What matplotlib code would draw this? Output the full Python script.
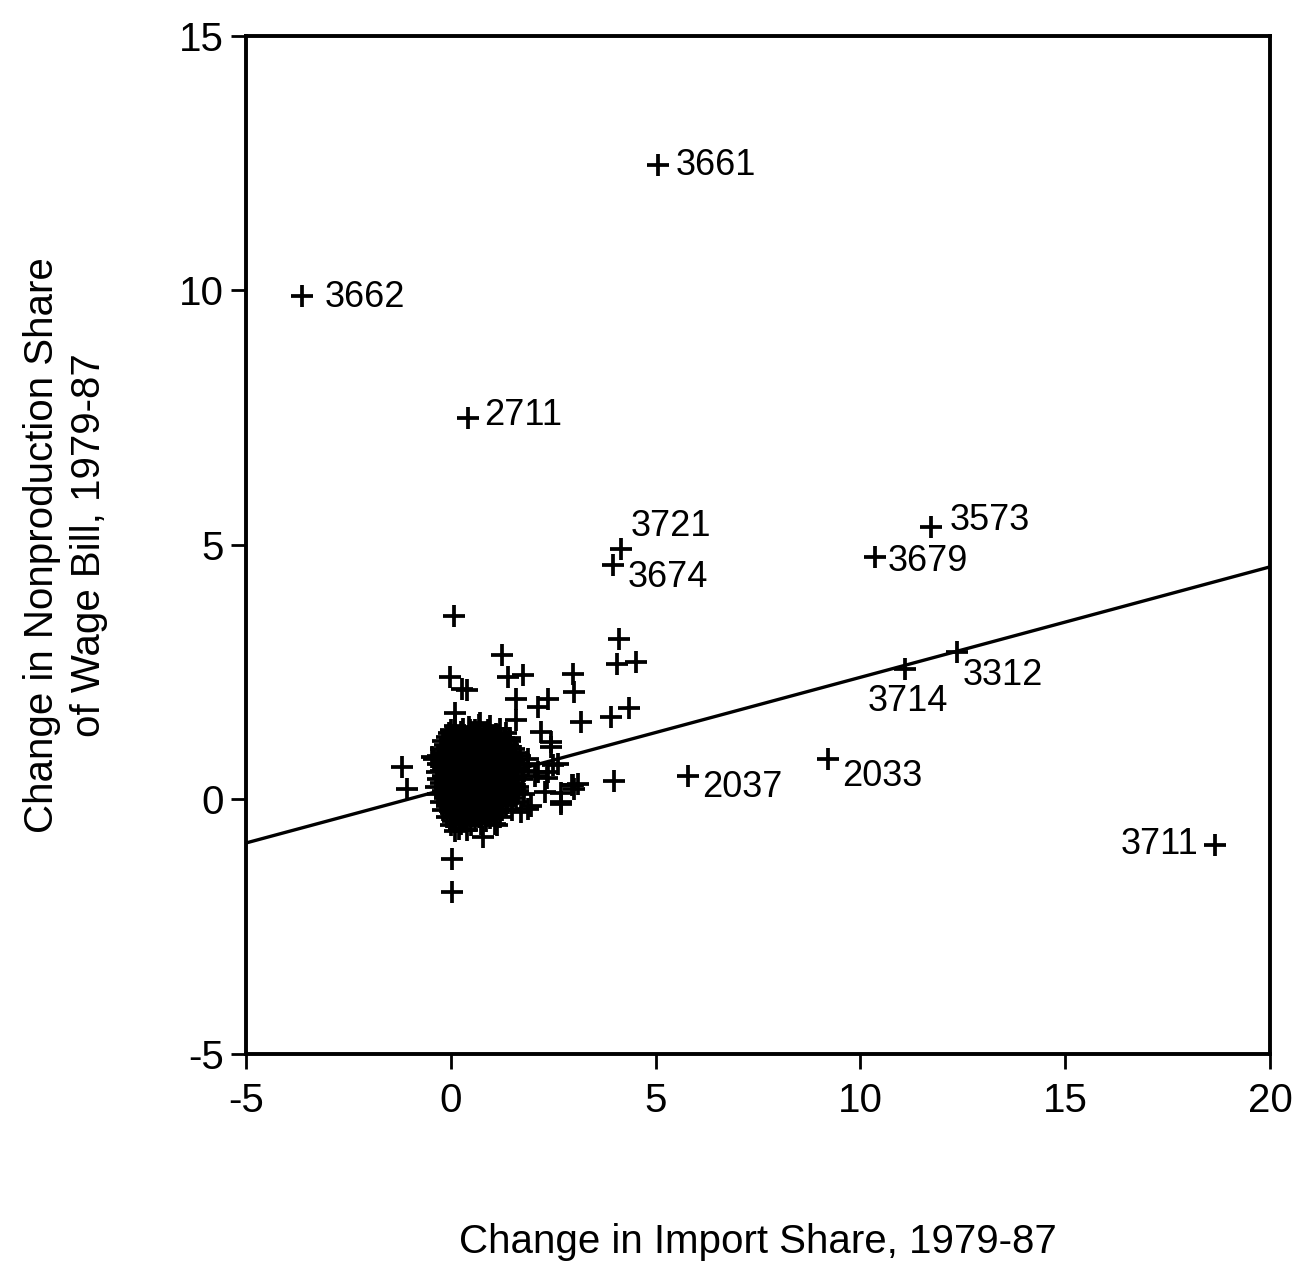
import numpy as np
import matplotlib.pyplot as plt

plt.rcParams['font.family'] = ['Liberation Sans', 'DejaVu Sans']
plt.rcParams['axes.unicode_minus'] = False

# labelled industries (SIC code, change in import share, change in nonproduction share)
lab_codes = ["3661", "3662", "2711", "3721", "3674", "3573", "3679",
             "3714", "3312", "2037", "2033", "3711"]
lab_x = [5.05, -3.62, 0.41, 4.15, 3.95, 11.73, 10.35, 11.08, 12.37, 5.78, 9.21, 18.66]
lab_y = [12.46, 9.90, 7.50, 4.93, 4.61, 5.36, 4.77, 2.57, 2.90, 0.47, 0.79, -0.89]

# other industries, scattered around the origin
pts_x = [0.07, 1.24, 4.11, 4.07, 4.52, -0.02, 0.27, 0.39, 1.40, 1.77, 2.98, 3.02,
         1.60, 2.13, 2.37, 3.18, 3.91, 4.36, 0.10, 1.60, 2.21, 2.45, 0.71, 1.44,
         -1.19, -1.07, -0.42, 3.99, 2.98, 3.10, 3.00, 2.70, 1.12, 0.79, 0.02, 0.02,
         0.19, 1.89, 2.05, 2.34, 2.29, 1.89, 1.04, 0.47, 0.27, 1.89, 2.13, 2.37,
         2.62, 2.70, 1.97, 1.72, 1.08, -0.46, -0.34, 2.45, 2.49, 2.95, 2.70]
pts_y = [3.60, 2.83, 3.16, 2.67, 2.70, 2.41, 2.18, 2.15, 2.41, 2.44, 2.47, 2.11,
         1.98, 1.82, 1.98, 1.52, 1.62, 1.79, 1.69, 1.56, 1.32, 1.03, 1.50, 1.20,
         0.64, 0.21, 0.80, 0.37, 0.28, 0.30, 0.20, -0.08, -0.51, -0.74, -1.17, -1.82,
         -0.58, 0.80, 0.47, 0.43, 0.14, -0.18, 1.10, 1.36, 1.26, 0.70, 0.54, 0.54,
         0.70, 0.12, -0.12, -0.25, -0.48, 0.83, 0.53, 1.13, 0.67, 0.28, -0.05]

# dense core of the cloud
core_x = [0.10, 0.45, 0.70, 0.95,
          -0.05, 0.25, 0.50, 0.80, 1.10, 1.35,
          -0.20, 0.05, 0.30, 0.55, 0.75, 0.95, 1.20, 1.45,
          -0.25, 0.00, 0.20, 0.40, 0.60, 0.85, 1.05, 1.30, 1.55,
          -0.30, -0.10, 0.10, 0.30, 0.50, 0.70, 0.90, 1.10, 1.30, 1.50, 1.70,
          -0.30, -0.15, 0.05, 0.25, 0.45, 0.60, 0.80, 1.00, 1.20, 1.40, 1.60,
          -0.25, -0.05, 0.15, 0.35, 0.55, 0.75, 0.95, 1.15, 1.35, 1.55, 1.80,
          -0.30, -0.10, 0.10, 0.30, 0.50, 0.70, 0.90, 1.10, 1.30, 1.50, 1.75,
          -0.35, -0.15, 0.05, 0.25, 0.45, 0.65, 0.85, 1.05, 1.25, 1.45, 1.65,
          -0.30, -0.10, 0.10, 0.30, 0.50, 0.70, 0.90, 1.10, 1.30, 1.55, 1.80,
          -0.25, -0.05, 0.15, 0.35, 0.55, 0.75, 0.95, 1.15, 1.40, 1.60,
          -0.20, 0.00, 0.20, 0.40, 0.60, 0.80, 1.00, 1.25, 1.50,
          -0.10, 0.10, 0.30, 0.50, 0.70, 0.95, 1.20,
          0.00, 0.25, 0.50, 0.75,
          0.10, 0.40,
          # second, staggered layer
          0.00, 0.30, 0.60, 0.90, 1.20,
          -0.10, 0.15, 0.40, 0.65, 0.85, 1.05, 1.30,
          -0.15, 0.10, 0.30, 0.50, 0.70, 0.95, 1.15, 1.40,
          -0.20, 0.00, 0.20, 0.40, 0.60, 0.80, 1.00, 1.20, 1.40, 1.60,
          -0.20, 0.00, 0.15, 0.35, 0.55, 0.70, 0.90, 1.10, 1.30, 1.50,
          -0.15, 0.05, 0.25, 0.45, 0.65, 0.85, 1.05, 1.25, 1.45, 1.65,
          -0.20, 0.00, 0.20, 0.40, 0.60, 0.80, 1.00, 1.20, 1.40, 1.60,
          -0.25, -0.05, 0.15, 0.35, 0.55, 0.75, 0.95, 1.15, 1.35, 1.55,
          -0.20, 0.00, 0.20, 0.40, 0.60, 0.80, 1.00, 1.20, 1.40, 1.65,
          -0.15, 0.05, 0.25, 0.45, 0.65, 0.85, 1.05, 1.25, 1.50,
          -0.10, 0.10, 0.30, 0.50, 0.70, 0.90, 1.10, 1.35,
          0.00, 0.20, 0.40, 0.60, 0.85, 1.10,
          0.05, 0.35, 0.60, 0.85]
core_y = [1.45, 1.43, 1.47, 1.44,
          1.30, 1.32, 1.28, 1.31, 1.29, 1.30,
          1.15, 1.17, 1.14, 1.16, 1.13, 1.15, 1.16, 1.14,
          1.00, 1.02, 0.98, 1.01, 0.99, 1.00, 1.03, 0.98, 1.00,
          0.85, 0.86, 0.84, 0.87, 0.85, 0.83, 0.86, 0.85, 0.84, 0.86, 0.85,
          0.70, 0.71, 0.69, 0.72, 0.70, 0.68, 0.71, 0.70, 0.69, 0.72, 0.70,
          0.55, 0.56, 0.54, 0.55, 0.57, 0.55, 0.53, 0.56, 0.55, 0.54, 0.56,
          0.40, 0.41, 0.39, 0.42, 0.40, 0.38, 0.41, 0.40, 0.39, 0.41, 0.40,
          0.25, 0.26, 0.24, 0.27, 0.25, 0.23, 0.26, 0.25, 0.24, 0.26, 0.25,
          0.10, 0.11, 0.09, 0.12, 0.10, 0.08, 0.11, 0.10, 0.09, 0.11, 0.10,
          -0.05, -0.04, -0.06, -0.03, -0.05, -0.07, -0.04, -0.05, -0.06, -0.04,
          -0.20, -0.19, -0.21, -0.18, -0.20, -0.22, -0.19, -0.20, -0.21,
          -0.35, -0.34, -0.36, -0.33, -0.35, -0.37, -0.34,
          -0.50, -0.49, -0.51, -0.48,
          -0.62, -0.60,
          1.37, 1.38, 1.36, 1.37, 1.38,
          1.22, 1.23, 1.21, 1.22, 1.24, 1.22, 1.21,
          1.07, 1.08, 1.06, 1.07, 1.09, 1.07, 1.06, 1.08,
          0.92, 0.93, 0.91, 0.92, 0.94, 0.92, 0.91, 0.93, 0.92, 0.91,
          0.77, 0.78, 0.76, 0.77, 0.79, 0.77, 0.76, 0.78, 0.77, 0.76,
          0.62, 0.63, 0.61, 0.62, 0.64, 0.62, 0.61, 0.63, 0.62, 0.61,
          0.47, 0.48, 0.46, 0.47, 0.49, 0.47, 0.46, 0.48, 0.47, 0.46,
          0.32, 0.33, 0.31, 0.32, 0.34, 0.32, 0.31, 0.33, 0.32, 0.31,
          0.17, 0.18, 0.16, 0.17, 0.19, 0.17, 0.16, 0.18, 0.17, 0.16,
          0.02, 0.03, 0.01, 0.02, 0.04, 0.02, 0.01, 0.03, 0.02,
          -0.12, -0.11, -0.13, -0.12, -0.10, -0.12, -0.13, -0.11,
          -0.27, -0.26, -0.28, -0.27, -0.25, -0.27,
          -0.42, -0.41, -0.43, -0.42]

# fitted line y = a + b*x
fit_a = 0.23
fit_b = 0.217

# label offsets in pixels (dx, dy, ha)
lab_off = [(18, 0, "left"), (22, -2, "left"), (17, 2, "left"), (10, 22, "left"),
           (15, -13, "left"), (18, 6, "left"), (13, -5, "left"), (-37, -33, "left"),
           (5, -24, "left"), (15, -12, "left"), (14, -17, "left"), (-17, 0, "right")]

fig = plt.figure(figsize=(13.11, 12.68), dpi=100)
ax = fig.add_axes([0.1876, 0.1688, 0.7811, 0.8028])

mk = dict(marker="+", color="black", linestyle="none", markersize=16, markeredgewidth=2.7)
ax.plot(core_x, core_y, **mk)
ax.plot(pts_x, pts_y, **mk)
ax.plot(lab_x, lab_y, **mk)

xl = np.array([-5, 20])
ax.plot(xl, fit_a + fit_b * xl, color="black", linewidth=2.4)

for code, x, y, (dx, dy, ha) in zip(lab_codes, lab_x, lab_y, lab_off):
    ax.annotate(code, (x, y), xytext=(dx, dy), textcoords="offset pixels",
                ha=ha, va="center", fontsize=26)

ax.set_xlim(-5, 20)
ax.set_ylim(-5, 15)
ax.set_xticks([-5, 0, 5, 10, 15, 20])
ax.set_yticks([-5, 0, 5, 10, 15])
ax.tick_params(direction="out", length=11, width=2, labelsize=29, pad=5)
ax.tick_params(axis="x", pad=9)
for s in ax.spines.values():
    s.set_linewidth(2.8)

ax.set_xlabel("Change in Import Share, 1979-87", fontsize=29)
ax.xaxis.set_label_coords(0.5, -0.166)
ax.set_ylabel("Change in Nonproduction Share\nof Wage Bill, 1979-87", fontsize=29,
              linespacing=1.3)
ax.yaxis.set_label_coords(-0.135, 0.5)

fig.savefig("out.png", dpi=100)
